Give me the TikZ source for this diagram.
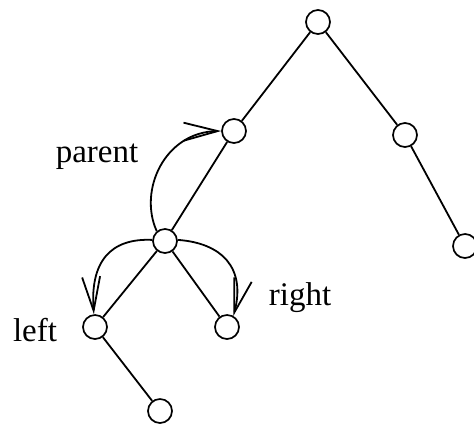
\documentclass[tikz,border=0pt]{standalone}
\usepackage{fontspec}
\setmainfont{Liberation Serif}
\usetikzlibrary{arrows.meta}
\begin{document}
\begin{tikzpicture}[x=0.5pt,y=-0.5pt,
  vert/.style={circle,draw,line width=0.85pt,minimum size=12pt,inner sep=0pt},
  edge/.style={line width=0.9pt},
  ptr/.style={line width=0.9pt,-{Straight Barb[length=17pt,width=9pt,line width=0.9pt]}},
  lbl/.style={font=\fontsize{16.5}{19}\selectfont,inner sep=0pt}]
\useasboundingbox (0,0) rectangle (474,430);
% tree vertices
\node[vert] (root) at (318,22) {};
\node[vert] (a) at (234,131) {};
\node[vert] (b) at (405,135) {};
\node[vert] (c) at (465,246) {};
\node[vert] (d) at (165,241) {};
\node[vert] (l) at (95,327) {};
\node[vert] (r) at (227,327) {};
\node[vert] (e) at (160,411) {};
% tree edges
\draw[edge] (root) -- (a);
\draw[edge] (root) -- (b);
\draw[edge] (b) -- (c);
\draw[edge] (a) -- (d);
\draw[edge] (d) -- (l);
\draw[edge] (d) -- (r);
\draw[edge] (l) -- (e);
% pointers
\draw[ptr] (d.130) .. controls (138,190) and (165,132) .. (a.180);
\draw[ptr] (d.175) .. controls (110,238) and (90,262) .. (l.95);
\draw[ptr] (d.5) .. controls (222,243) and (246,268) .. (r.60);
% labels
\node[lbl] (tp) at (97,157) {parent};
\node[lbl] (tl) at (35,330) {left};
\node[lbl] (tr) at (300,298) {right};
\end{tikzpicture}
\end{document}
